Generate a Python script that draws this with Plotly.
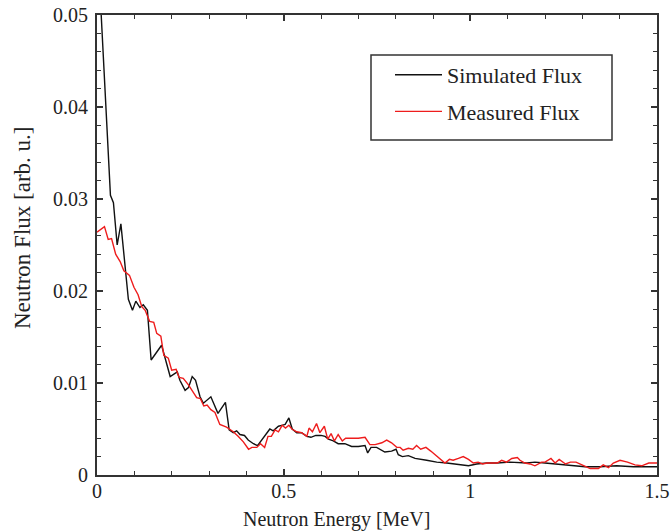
import plotly.graph_objects as go

# Simulated flux (black)
sim_E = [0.010, 0.036, 0.044, 0.054, 0.064, 0.075, 0.084, 0.095, 0.104, 0.115,
         0.124, 0.135, 0.145, 0.173, 0.196, 0.215, 0.222, 0.236, 0.245, 0.255,
         0.264, 0.276, 0.285, 0.305, 0.324, 0.344, 0.354, 0.365, 0.374, 0.383,
         0.395, 0.405, 0.419, 0.430, 0.445, 0.463, 0.472, 0.486, 0.495, 0.504,
         0.514, 0.523, 0.535, 0.548, 0.562, 0.573, 0.586, 0.600, 0.611, 0.620,
         0.633, 0.646, 0.664, 0.682, 0.700, 0.718, 0.725, 0.734, 0.749, 0.763,
         0.771, 0.789, 0.801, 0.807, 0.818, 0.834, 0.852, 0.883, 0.910, 0.937,
         0.963, 0.995, 1.017, 1.044, 1.071, 1.106, 1.151, 1.173, 1.200, 1.231,
         1.267, 1.307, 1.347, 1.392, 1.437, 1.472, 1.500]
sim_F = [0.0510, 0.0304, 0.0296, 0.0250, 0.0273, 0.0232, 0.0191, 0.0179, 0.0189, 0.0182,
         0.0185, 0.0179, 0.0125, 0.0141, 0.0107, 0.0112, 0.0103, 0.0092, 0.0095, 0.0107,
         0.0103, 0.0085, 0.0078, 0.0085, 0.0067, 0.0079, 0.0049, 0.0046, 0.0048, 0.0044,
         0.0043, 0.0038, 0.0034, 0.0032, 0.0040, 0.0050, 0.0048, 0.0053, 0.0054, 0.0055,
         0.0062, 0.0050, 0.0046, 0.0046, 0.0042, 0.0041, 0.0043, 0.0043, 0.0042, 0.0039,
         0.0037, 0.0034, 0.0034, 0.0031, 0.0031, 0.0032, 0.0024, 0.0030, 0.0030, 0.0027,
         0.0025, 0.0026, 0.0028, 0.0022, 0.0020, 0.0021, 0.0018, 0.0016, 0.0014, 0.0013,
         0.0012, 0.0010, 0.0012, 0.0013, 0.0013, 0.0014, 0.0013, 0.0014, 0.0013, 0.0012,
         0.0011, 0.0009, 0.0009, 0.0010, 0.0009, 0.0009, 0.0009]

# Measured flux (red)
meas_E = [0.000, 0.020, 0.030, 0.039, 0.050, 0.062, 0.072, 0.087, 0.099, 0.110,
          0.120, 0.129, 0.141, 0.152, 0.160, 0.171, 0.179, 0.191, 0.200, 0.212,
          0.220, 0.231, 0.245, 0.254, 0.267, 0.277, 0.286, 0.295, 0.305, 0.316,
          0.329, 0.347, 0.365, 0.378, 0.392, 0.406, 0.415, 0.428, 0.438, 0.449,
          0.458, 0.467, 0.477, 0.486, 0.496, 0.505, 0.514, 0.522, 0.535, 0.548,
          0.562, 0.568, 0.577, 0.588, 0.597, 0.609, 0.618, 0.627, 0.636, 0.646,
          0.657, 0.666, 0.700, 0.718, 0.731, 0.745, 0.763, 0.776, 0.789, 0.803,
          0.812, 0.820, 0.834, 0.846, 0.856, 0.867, 0.881, 0.894, 0.905, 0.919,
          0.932, 0.944, 0.954, 0.968, 0.981, 0.995, 1.008, 1.021, 1.033, 1.045,
          1.057, 1.072, 1.084, 1.097, 1.111, 1.126, 1.133, 1.146, 1.160, 1.173,
          1.191, 1.200, 1.216, 1.227, 1.238, 1.255, 1.268, 1.283, 1.305, 1.321,
          1.343, 1.356, 1.370, 1.383, 1.401, 1.421, 1.441, 1.459, 1.478, 1.500]
meas_F = [0.0264, 0.0270, 0.0256, 0.0257, 0.0240, 0.0232, 0.0222, 0.0217, 0.0204, 0.0196,
          0.0183, 0.0179, 0.0167, 0.0166, 0.0154, 0.0151, 0.0130, 0.0127, 0.0114, 0.0115,
          0.0106, 0.0105, 0.0098, 0.0092, 0.0084, 0.0083, 0.0075, 0.0076, 0.0071, 0.0068,
          0.0055, 0.0052, 0.0047, 0.0042, 0.0036, 0.0028, 0.0030, 0.0030, 0.0034, 0.0030,
          0.0042, 0.0042, 0.0049, 0.0047, 0.0054, 0.0051, 0.0054, 0.0050, 0.0047, 0.0046,
          0.0042, 0.0051, 0.0047, 0.0056, 0.0046, 0.0053, 0.0039, 0.0045, 0.0037, 0.0044,
          0.0037, 0.0040, 0.0040, 0.0041, 0.0033, 0.0033, 0.0035, 0.0038, 0.0035, 0.0030,
          0.0030, 0.0027, 0.0029, 0.0028, 0.0032, 0.0028, 0.0030, 0.0026, 0.0022, 0.0018,
          0.0013, 0.0017, 0.0016, 0.0018, 0.0020, 0.0017, 0.0013, 0.0014, 0.0012, 0.0013,
          0.0013, 0.0013, 0.0016, 0.0014, 0.0018, 0.0019, 0.0016, 0.0013, 0.0012, 0.0010,
          0.0014, 0.0014, 0.0018, 0.0013, 0.0017, 0.0012, 0.0014, 0.0014, 0.0010, 0.0007,
          0.0007, 0.0011, 0.0008, 0.0013, 0.0016, 0.0014, 0.0011, 0.0010, 0.0013, 0.0013]

x_tick_vals = [0, 0.5, 1, 1.5]
x_tick_text = ["0", "0.5", "1", "1.5"]
y_tick_vals = [0, 0.01, 0.02, 0.03, 0.04, 0.05]
y_tick_text = ["0", "0.01", "0.02", "0.03", "0.04", "0.05"]

FONT = "Liberation Serif, Times New Roman, serif"

fig = go.Figure()
fig.add_trace(go.Scatter(x=sim_E, y=sim_F, mode="lines", name="Simulated Flux",
                         legendgroup="a", line=dict(color="#111111", width=1.4)))
fig.add_trace(go.Scatter(x=meas_E, y=meas_F, mode="lines", name="Measured Flux",
                         legendgroup="b", line=dict(color="#ee1c1c", width=1.4)))

axis_common = dict(
    showline=True, linecolor="#333333", linewidth=2, mirror="ticks",
    ticks="inside", ticklen=6, tickwidth=1.5, tickcolor="#333333",
    showgrid=False, zeroline=False, automargin=False,
    tickfont=dict(family=FONT, size=20, color="#222222"),
)

fig.update_xaxes(range=[0, 1.5], tickvals=x_tick_vals, ticktext=x_tick_text,
                 minor=dict(dtick=0.1, ticks="inside", ticklen=4, tickwidth=1.2,
                            tickcolor="#333333", showgrid=False),
                 ticklabelstandoff=-3,
                 **axis_common)
fig.update_yaxes(range=[0, 0.05], tickvals=y_tick_vals, ticktext=y_tick_text,
                 minor=dict(dtick=0.002, ticks="inside", ticklen=4, tickwidth=1.2,
                            tickcolor="#333333", showgrid=False),
                 ticklabelstandoff=3,
                 **axis_common)

fig.add_shape(type="rect", xref="paper", yref="paper",
              x0=(371 - 97) / 560, x1=(612 - 97) / 560,
              y0=(475 - 140) / 460, y1=(475 - 55) / 460,
              line=dict(color="#333333", width=1.5), fillcolor="rgba(0,0,0,0)")

fig.update_layout(
    width=672, height=532,
    margin=dict(l=97, r=15, t=15, b=57, autoexpand=False),
    paper_bgcolor="white", plot_bgcolor="white",
    showlegend=True,
    legend=dict(x=(390 - 97) / 560, y=(475 - 54) / 460, xanchor="left", yanchor="top",
                bgcolor="rgba(0,0,0,0)", borderwidth=0, itemwidth=47,
                font=dict(family=FONT, size=22, color="#222222"),
                tracegroupgap=5, traceorder="grouped"),
    annotations=[
        dict(text="Neutron Energy [MeV]", xref="paper", yref="paper",
             x=(336 - 97) / 560, y=-(519 - 475) / 460, xanchor="center", yanchor="middle",
             showarrow=False, font=dict(family=FONT, size=20, color="#222222")),
        dict(text="Neutron Flux [arb. u.]", xref="paper", yref="paper",
             x=-(97 - 22) / 560, y=(475 - 228) / 460, xanchor="center", yanchor="middle",
             textangle=-90, showarrow=False,
             font=dict(family=FONT, size=23, color="#222222")),
    ],
)

fig.write_html("out.html")
